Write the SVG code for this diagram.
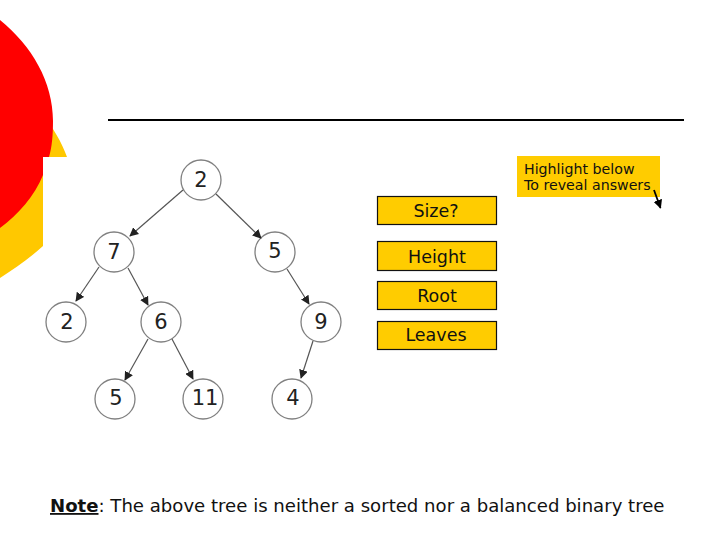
<svg xmlns="http://www.w3.org/2000/svg" width="720" height="540" viewBox="0 0 720 540">
<style>
text{font-family:"DejaVu Sans",Verdana,sans-serif;fill:#111}
.n circle{fill:#fff;stroke:#808080;stroke-width:1.3}
.n text{font-size:21px;text-anchor:middle;fill:#222}
.b rect{fill:#ffcc00;stroke:#111;stroke-width:1.2}
.b text{font-size:17.500px;text-anchor:middle}
#edges line{stroke:#555;stroke-width:1.2;marker-end:url(#a)}
</style>
<defs>
<marker id="a" viewBox="0 0 10 10" refX="9" refY="5" markerWidth="9" markerHeight="9" markerUnits="userSpaceOnUse" orient="auto"><path d="M0 0L10 5L0 10Z" fill="#222"/></marker>
<marker id="k" viewBox="0 0 10 10" refX="9" refY="5" markerWidth="9" markerHeight="9" markerUnits="userSpaceOnUse" orient="auto"><path d="M0 0L10 5L0 10Z" fill="#000"/></marker>
</defs>
<rect width="720" height="540" fill="#fff"/>
<path d="M0 72C30 95 57 128 67 157H43V246C30 258 14 269 0 278Z" fill="#ffc800"/>
<path d="M0 20C32 46 53 82 53 121C53 135 52 147 49 157H43V175C35 195 18 215 0 228Z" fill="#ff0000"/>
<line x1="108" y1="120" x2="684" y2="120" stroke="#000" stroke-width="2"/>
<g id="n1" class="n"><circle cx="201" cy="180" r="20"/><text x="201" y="187">2</text></g>
<g id="n2" class="n"><circle cx="114" cy="252" r="20"/><text x="114" y="259">7</text></g>
<g id="n3" class="n"><circle cx="275" cy="252" r="20"/><text x="275" y="258">5</text></g>
<g id="n4" class="n"><circle cx="66" cy="322" r="20"/><text x="67" y="329">2</text></g>
<g id="n5" class="n"><circle cx="161" cy="322" r="20"/><text x="161" y="329">6</text></g>
<g id="n6" class="n"><circle cx="321" cy="322" r="20"/><text x="321" y="329">9</text></g>
<g id="n7" class="n"><circle cx="115" cy="399" r="20"/><text x="116" y="405">5</text></g>
<g id="n8" class="n"><circle cx="203" cy="399" r="20"/><text x="205" y="405">11</text></g>
<g id="n9" class="n"><circle cx="292" cy="399" r="20"/><text x="293" y="405">4</text></g>
<g id="note"><rect x="517" y="156" width="143" height="41" fill="#ffcc00"/>
<text x="524" y="174" font-size="14.2" fill="#222">Highlight below</text>
<text x="524" y="190" font-size="14.2" fill="#222">To reveal answers</text></g>
<g id="size" class="b"><rect x="377.500" y="196.500" width="119" height="28"/><text x="436" y="217">Size?</text></g>
<g id="height" class="b"><rect x="377.500" y="241.500" width="119" height="29"/><text x="437" y="262.500">Height</text></g>
<g id="root" class="b"><rect x="377.500" y="281.500" width="119" height="28"/><text x="437" y="302">Root</text></g>
<g id="leaves" class="b"><rect x="377.500" y="321.500" width="119" height="28"/><text x="436" y="341">Leaves</text></g>
<text id="caption" x="50" y="512" font-size="18.100"><tspan font-weight="bold" text-decoration="underline">Note</tspan>: The above tree is neither a sorted nor a balanced binary tree</text>
<g id="edges">
<line x1="183" y1="190" x2="130" y2="236"/>
<line x1="216" y1="194" x2="261" y2="238"/>
<line x1="99" y1="267" x2="76" y2="301"/>
<line x1="128" y1="268" x2="148" y2="305"/>
<line x1="287" y1="269" x2="309" y2="304"/>
<line x1="148" y1="339" x2="125" y2="380"/>
<line x1="172" y1="339" x2="193" y2="379"/>
<line x1="313" y1="341" x2="301" y2="378"/>
<line x1="654" y1="190" x2="660.500" y2="208" style="stroke:#000;stroke-width:1.8;marker-end:url(#k)"/>
</g>
</svg>
